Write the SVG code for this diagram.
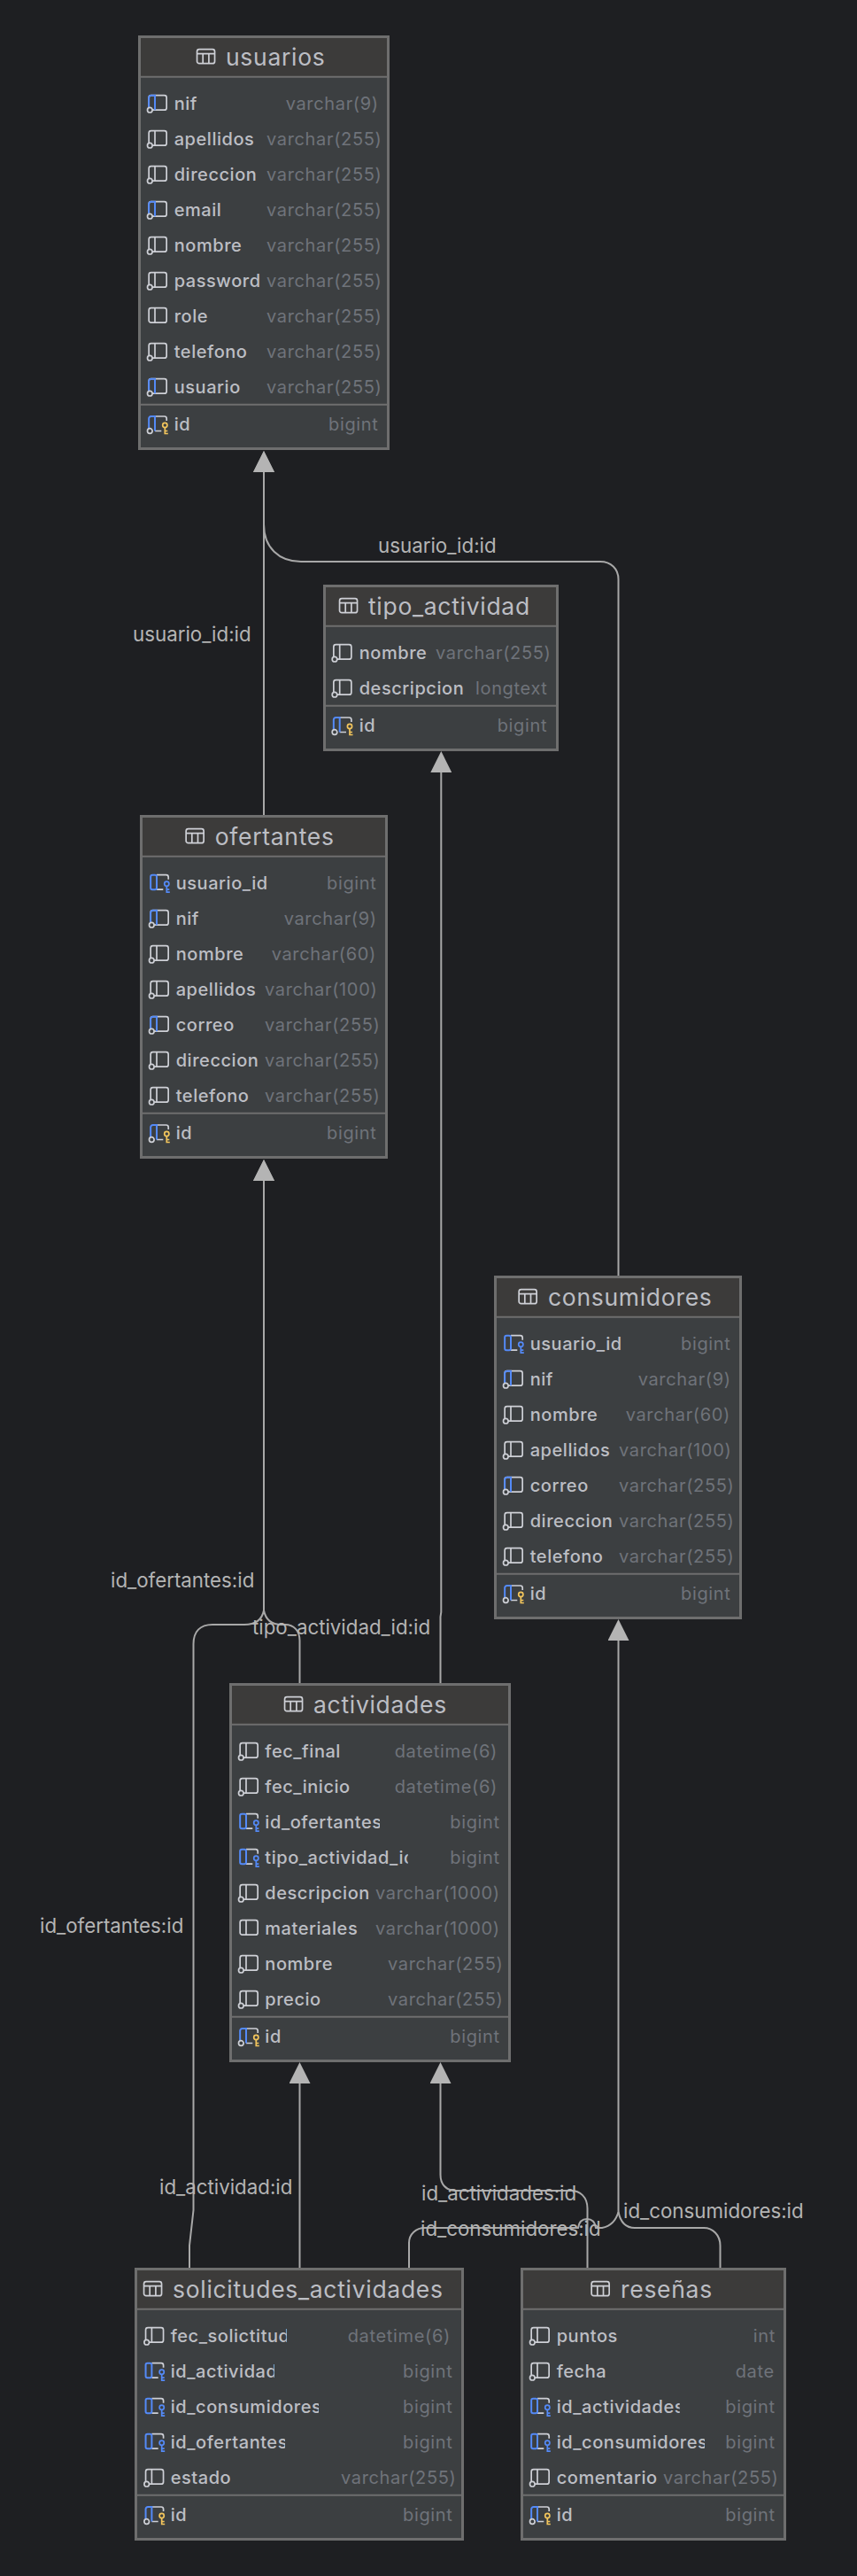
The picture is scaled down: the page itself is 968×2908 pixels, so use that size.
<svg xmlns="http://www.w3.org/2000/svg" xmlns:xlink="http://www.w3.org/1999/xlink" width="968" height="2908" viewBox="0 0 968 2908">
<style>
text{font-family:Inter,"Liberation Sans",sans-serif}
.b{fill:#3c3f41;stroke:#6e6e6e;stroke-width:3}
.h{fill:#3c3b3a}
.s{stroke:#6e6e6e;stroke-width:2;fill:none}
.t{font-size:26.500px;fill:#bcbec4;letter-spacing:.7px}
.n{font-size:20px;font-weight:500;fill:#bcbec4;letter-spacing:.55px}
.y{font-size:20px;fill:#6f737a;letter-spacing:.65px}
.l{font-size:22.300px;fill:#b4b4b4}
.e{fill:none;stroke:#a8a8a8;stroke-width:2}
.g{fill:none;stroke:#ced0d6;stroke-width:1.7}
.u{fill:none;stroke:#548af7;stroke-width:2}
.k{fill:none;stroke:#f2c55c;stroke-width:1.7}
.q{fill:none;stroke:#548af7;stroke-width:1.7}
</style>
<defs>
<marker id="a" markerUnits="userSpaceOnUse" markerWidth="24" markerHeight="24" refX="0" refY="12" orient="auto"><path d="M0 0L24 12L0 24Z" fill="#b4b4b4"/></marker>
<g id="ic-t"><rect class="g" x=".85" y="-8.3" width="20" height="16" rx="2.5"/><path class="g" d="M.85-3.3H20.85M7.5-3.3V7.7M14.2-3.3V7.7"/></g>
<g id="ic-r"><rect class="g" x=".85" y="-9" width="20" height="16.5" rx="2.5"/><path class="g" d="M7.7-9V7.5"/></g>
<g id="ic-c"><use href="#ic-r"/><circle class="g" cx="2" cy="7.5" r="2.8" style="fill:#3c3f41"/></g>
<g id="ic-n"><use href="#ic-r"/><path class="u" d="M.85 5V-6.5A2.5 2.5 0 0 1 3.35-9H7.7V7.5"/><circle class="g" cx="2" cy="7.5" r="2.8" style="fill:#3c3f41"/></g>
<g id="ic-f"><path class="g" d="M7.7-9H18.4A2.5 2.5 0 0 1 20.9-6.5V-4M7.7 7.5H15"/><rect class="u" x=".85" y="-9" width="6.85" height="16.5" rx="2"/><circle class="q" cx="19" cy="1" r="2.6"/><path class="q" d="M19 3.6V10.5H22.5M19 7.5H22"/></g>
<g id="ic-p"><path class="g" d="M7.7-9H18.4A2.5 2.5 0 0 1 20.9-6.5V-4M7.7 7.5H15"/><path class="u" d="M.85 5V-6.5A2.5 2.5 0 0 1 3.35-9H7.7V7.5"/><circle class="g" cx="2" cy="7.5" r="2.8" style="fill:#3c3f41"/><circle class="k" cx="19" cy="1" r="2.6"/><path class="k" d="M19 3.6V10.5H22.5M19 7.5H22"/></g>
<clipPath id="c1"><rect x="290" y="2000" width="105" height="30"/></clipPath>
<clipPath id="c2"><rect x="290" y="2040" width="139" height="30"/></clipPath>
<clipPath id="c3"><rect x="290" y="2080" width="170.700" height="30"/></clipPath>
<clipPath id="c4"><rect x="185" y="2620" width="139" height="30"/></clipPath>
<clipPath id="c5"><rect x="185" y="2660" width="125" height="30"/></clipPath>
<clipPath id="c6"><rect x="185" y="2700" width="175" height="30"/></clipPath>
<clipPath id="c7"><rect x="185" y="2740" width="137" height="30"/></clipPath>
<clipPath id="c8"><rect x="620" y="2700" width="147.700" height="30"/></clipPath>
<clipPath id="c9"><rect x="620" y="2740" width="176" height="30"/></clipPath>
</defs>
<rect width="968" height="2908" fill="#1e1f22"/>
<g id="connectors">
<path class="e" d="M298 920V533" marker-end="url(#a)"/>
<path class="e" d="M698.500 1440V654C698.500 642 690 634 678 634H340C315 634 298 618 298 592V533" marker-end="url(#a)"/>
<path class="e" d="M497.500 1900V1825L498.300 1820V872" marker-end="url(#a)"/>
<path class="e" d="M338.500 1900V1852C338.500 1841 332 1834 322 1834H318C306 1834 300 1828 298 1818V1333" marker-end="url(#a)"/>
<path class="e" d="M214 2560V2535L218.500 2495V1856C218.500 1842 226 1834 240 1834H276C290 1834 296 1828 298 1818V1333" marker-end="url(#a)"/>
<path class="e" d="M338.500 2560V2352" marker-end="url(#a)"/>
<path class="e" d="M663.500 2560V2493C663.500 2480 655 2473 645 2473H515C503 2473 497.500 2465 497.500 2455V2352" marker-end="url(#a)"/>
<path class="e" d="M462 2560V2532C462 2522 470 2515 480 2515H653C654 2508 658 2505 663 2505C668 2505 672 2508 673 2515H680C690 2513 696 2506 698.500 2497V1852" marker-end="url(#a)"/>
<path class="e" d="M813.500 2560V2535C813.500 2523 805 2515 795 2515H717C706 2515 700.500 2507 698.500 2497"/>
<text class="l" x="150" y="723.500">usuario_id:id</text>
<text class="l" x="427" y="624">usuario_id:id</text>
<text class="l" x="285" y="1844.500">tipo_actividad_id:id</text>
<text class="l" x="125" y="1791.500">id_ofertantes:id</text>
<text class="l" x="45" y="2181.500">id_ofertantes:id</text>
<text class="l" x="180" y="2476.500">id_actividad:id</text>
<text class="l" x="476" y="2483.500">id_actividades:id</text>
<text class="l" x="475" y="2523.500">id_consumidores:id</text>
<text class="l" x="704" y="2503.500">id_consumidores:id</text>
</g>
<g id="usuarios">
<rect class="b" x="157.500" y="41.500" width="281" height="465"/>
<rect class="h" x="159" y="43" width="278" height="43"/>
<path class="s" d="M159 86.700H437M159 456.700H437"/>
<use href="#ic-t" x="221.700" y="64"/><text class="t" x="255" y="74.300">usuarios</text>
<use href="#ic-n" x="167.300" y="116.700"/><text class="n" x="196.700" y="123.700">nif</text><text class="y" x="322.700" y="123.700">varchar(9)</text>
<use href="#ic-c" x="167.300" y="156.700"/><text class="n" x="196.700" y="163.700">apellidos</text><text class="y" x="301" y="163.700">varchar(255)</text>
<use href="#ic-c" x="167.300" y="196.700"/><text class="n" x="196.700" y="203.700">direccion</text><text class="y" x="301" y="203.700">varchar(255)</text>
<use href="#ic-n" x="167.300" y="236.700"/><text class="n" x="196.700" y="243.700">email</text><text class="y" x="301" y="243.700">varchar(255)</text>
<use href="#ic-c" x="167.300" y="276.700"/><text class="n" x="196.700" y="283.700">nombre</text><text class="y" x="301" y="283.700">varchar(255)</text>
<use href="#ic-c" x="167.300" y="316.700"/><text class="n" x="196.700" y="323.700">password</text><text class="y" x="301" y="323.700">varchar(255)</text>
<use href="#ic-r" x="167.300" y="356.700"/><text class="n" x="196.700" y="363.700">role</text><text class="y" x="301" y="363.700">varchar(255)</text>
<use href="#ic-c" x="167.300" y="396.700"/><text class="n" x="196.700" y="403.700">telefono</text><text class="y" x="301" y="403.700">varchar(255)</text>
<use href="#ic-n" x="167.300" y="436.700"/><text class="n" x="196.700" y="443.700">usuario</text><text class="y" x="301" y="443.700">varchar(255)</text>
<use href="#ic-p" x="167.300" y="479"/><text class="n" x="196.700" y="486">id</text><text class="y" x="371" y="486">bigint</text>
</g>
<g id="tipo_actividad">
<rect class="b" x="366.500" y="661.500" width="263" height="185"/>
<rect class="h" x="368" y="663" width="260" height="43"/>
<path class="s" d="M368 706.700H628M368 796.700H628"/>
<use href="#ic-t" x="382.700" y="684"/><text class="t" x="416" y="694.300">tipo_actividad</text>
<use href="#ic-c" x="376" y="736.700"/><text class="n" x="405.700" y="743.700">nombre</text><text class="y" x="492" y="743.700">varchar(255)</text>
<use href="#ic-c" x="376" y="776.700"/><text class="n" x="405.700" y="783.700">descripcion</text><text class="y" x="537" y="783.700">longtext</text>
<use href="#ic-p" x="376" y="819"/><text class="n" x="405.700" y="826">id</text><text class="y" x="561.700" y="826">bigint</text>
</g>
<g id="ofertantes">
<rect class="b" x="159.500" y="921.500" width="277" height="385"/>
<rect class="h" x="161" y="923" width="274" height="43"/>
<path class="s" d="M161 966.700H435M161 1256.700H435"/>
<use href="#ic-t" x="209.300" y="944"/><text class="t" x="242.700" y="954.300">ofertantes</text>
<use href="#ic-f" x="169.300" y="996.700"/><text class="n" x="198.700" y="1003.700">usuario_id</text><text class="y" x="369" y="1003.700">bigint</text>
<use href="#ic-n" x="169.300" y="1036.700"/><text class="n" x="198.700" y="1043.700">nif</text><text class="y" x="320.700" y="1043.700">varchar(9)</text>
<use href="#ic-c" x="169.300" y="1076.700"/><text class="n" x="198.700" y="1083.700">nombre</text><text class="y" x="306.700" y="1083.700">varchar(60)</text>
<use href="#ic-c" x="169.300" y="1116.700"/><text class="n" x="198.700" y="1123.700">apellidos</text><text class="y" x="299" y="1123.700">varchar(100)</text>
<use href="#ic-n" x="169.300" y="1156.700"/><text class="n" x="198.700" y="1163.700">correo</text><text class="y" x="299" y="1163.700">varchar(255)</text>
<use href="#ic-c" x="169.300" y="1196.700"/><text class="n" x="198.700" y="1203.700">direccion</text><text class="y" x="299" y="1203.700">varchar(255)</text>
<use href="#ic-c" x="169.300" y="1236.700"/><text class="n" x="198.700" y="1243.700">telefono</text><text class="y" x="299" y="1243.700">varchar(255)</text>
<use href="#ic-p" x="169.300" y="1279"/><text class="n" x="198.700" y="1286">id</text><text class="y" x="369" y="1286">bigint</text>
</g>
<g id="consumidores">
<rect class="b" x="559.500" y="1441.500" width="277" height="385"/>
<rect class="h" x="561" y="1443" width="274" height="43"/>
<path class="s" d="M561 1486.700H835M561 1776.700H835"/>
<use href="#ic-t" x="585.300" y="1464"/><text class="t" x="619" y="1474.300">consumidores</text>
<use href="#ic-f" x="569.300" y="1516.700"/><text class="n" x="598.700" y="1523.700">usuario_id</text><text class="y" x="769" y="1523.700">bigint</text>
<use href="#ic-n" x="569.300" y="1556.700"/><text class="n" x="598.700" y="1563.700">nif</text><text class="y" x="720.700" y="1563.700">varchar(9)</text>
<use href="#ic-c" x="569.300" y="1596.700"/><text class="n" x="598.700" y="1603.700">nombre</text><text class="y" x="706.700" y="1603.700">varchar(60)</text>
<use href="#ic-c" x="569.300" y="1636.700"/><text class="n" x="598.700" y="1643.700">apellidos</text><text class="y" x="699" y="1643.700">varchar(100)</text>
<use href="#ic-n" x="569.300" y="1676.700"/><text class="n" x="598.700" y="1683.700">correo</text><text class="y" x="699" y="1683.700">varchar(255)</text>
<use href="#ic-c" x="569.300" y="1716.700"/><text class="n" x="598.700" y="1723.700">direccion</text><text class="y" x="699" y="1723.700">varchar(255)</text>
<use href="#ic-c" x="569.300" y="1756.700"/><text class="n" x="598.700" y="1763.700">telefono</text><text class="y" x="699" y="1763.700">varchar(255)</text>
<use href="#ic-p" x="569.300" y="1799"/><text class="n" x="598.700" y="1806">id</text><text class="y" x="769" y="1806">bigint</text>
</g>
<g id="actividades">
<rect class="b" x="260.500" y="1901.500" width="315" height="425"/>
<rect class="h" x="262" y="1903" width="312" height="43"/>
<path class="s" d="M262 1946.700H574M262 2276.700H574"/>
<use href="#ic-t" x="320.700" y="1924"/><text class="t" x="354" y="1934.300">actividades</text>
<use href="#ic-c" x="270.300" y="1976.700"/><text class="n" x="299.300" y="1983.700">fec_final</text><text class="y" x="445.700" y="1983.700">datetime(6)</text>
<use href="#ic-c" x="270.300" y="2016.700"/><text class="n" x="299.300" y="2023.700" clip-path="url(#c1)">fec_inicio</text><text class="y" x="445.700" y="2023.700">datetime(6)</text>
<use href="#ic-f" x="270.300" y="2056.700"/><text class="n" x="299.300" y="2063.700" clip-path="url(#c2)">id_ofertantes</text><text class="y" x="508.300" y="2063.700">bigint</text>
<use href="#ic-f" x="270.300" y="2096.700"/><text class="n" x="299.300" y="2103.700" clip-path="url(#c3)">tipo_actividad_id</text><text class="y" x="508.300" y="2103.700">bigint</text>
<use href="#ic-c" x="270.300" y="2136.700"/><text class="n" x="299.300" y="2143.700">descripcion</text><text class="y" x="424" y="2143.700">varchar(1000)</text>
<use href="#ic-r" x="270.300" y="2176.700"/><text class="n" x="299.300" y="2183.700">materiales</text><text class="y" x="424" y="2183.700">varchar(1000)</text>
<use href="#ic-c" x="270.300" y="2216.700"/><text class="n" x="299.300" y="2223.700">nombre</text><text class="y" x="438" y="2223.700">varchar(255)</text>
<use href="#ic-c" x="270.300" y="2256.700"/><text class="n" x="299.300" y="2263.700">precio</text><text class="y" x="438" y="2263.700">varchar(255)</text>
<use href="#ic-p" x="270.300" y="2299"/><text class="n" x="299.300" y="2306">id</text><text class="y" x="508.300" y="2306">bigint</text>
</g>
<g id="solicitudes_actividades">
<rect class="b" x="153.500" y="2561.500" width="369" height="305"/>
<rect class="h" x="155" y="2563" width="366" height="43"/>
<path class="s" d="M155 2606.700H521M155 2816.700H521"/>
<use href="#ic-t" x="161.700" y="2584"/><text class="t" x="195" y="2594.300">solicitudes_actividades</text>
<use href="#ic-c" x="163.700" y="2636.700"/><text class="n" x="192.700" y="2643.700" clip-path="url(#c4)">fec_solictitud</text><text class="y" x="392.700" y="2643.700">datetime(6)</text>
<use href="#ic-f" x="163.700" y="2676.700"/><text class="n" x="192.700" y="2683.700" clip-path="url(#c5)">id_actividad</text><text class="y" x="455" y="2683.700">bigint</text>
<use href="#ic-f" x="163.700" y="2716.700"/><text class="n" x="192.700" y="2723.700" clip-path="url(#c6)">id_consumidores</text><text class="y" x="455" y="2723.700">bigint</text>
<use href="#ic-f" x="163.700" y="2756.700"/><text class="n" x="192.700" y="2763.700" clip-path="url(#c7)">id_ofertantes</text><text class="y" x="455" y="2763.700">bigint</text>
<use href="#ic-c" x="163.700" y="2796.700"/><text class="n" x="192.700" y="2803.700">estado</text><text class="y" x="385" y="2803.700">varchar(255)</text>
<use href="#ic-p" x="163.700" y="2839"/><text class="n" x="192.700" y="2846">id</text><text class="y" x="455" y="2846">bigint</text>
</g>
<g id="resenas">
<rect class="b" x="589.500" y="2561.500" width="297" height="305"/>
<rect class="h" x="591" y="2563" width="294" height="43"/>
<path class="s" d="M591 2606.700H885M591 2816.700H885"/>
<use href="#ic-t" x="667.300" y="2584"/><text class="t" x="701" y="2594.300">reseñas</text>
<use href="#ic-c" x="599.300" y="2636.700"/><text class="n" x="628.700" y="2643.700">puntos</text><text class="y" x="850.700" y="2643.700">int</text>
<use href="#ic-c" x="599.300" y="2676.700"/><text class="n" x="628.700" y="2683.700">fecha</text><text class="y" x="830.700" y="2683.700">date</text>
<use href="#ic-f" x="599.300" y="2716.700"/><text class="n" x="628.700" y="2723.700" clip-path="url(#c8)">id_actividades</text><text class="y" x="819.300" y="2723.700">bigint</text>
<use href="#ic-f" x="599.300" y="2756.700"/><text class="n" x="628.700" y="2763.700" clip-path="url(#c9)">id_consumidores</text><text class="y" x="819.300" y="2763.700">bigint</text>
<use href="#ic-c" x="599.300" y="2796.700"/><text class="n" x="628.700" y="2803.700">comentario</text><text class="y" x="749" y="2803.700">varchar(255)</text>
<use href="#ic-p" x="599.300" y="2839"/><text class="n" x="628.700" y="2846">id</text><text class="y" x="819.300" y="2846">bigint</text>
</g>
</svg>
